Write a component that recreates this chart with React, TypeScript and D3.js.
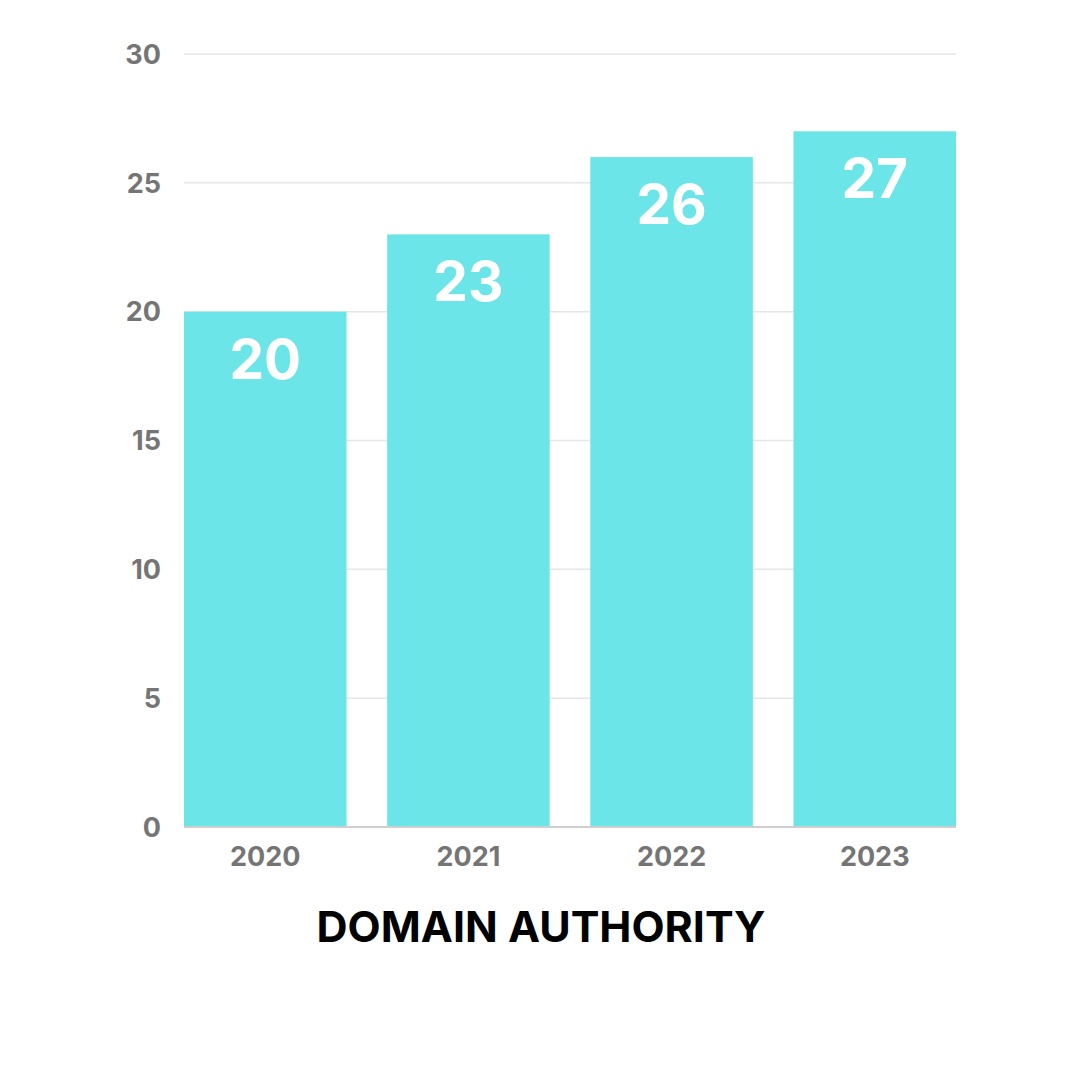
import React from "react";
import * as d3 from "d3";

const categories = ["2020", "2021", "2022", "2023"];
const values = [20, 23, 26, 27];
const yTicks = [0, 5, 10, 15, 20, 25, 30];
const title = "DOMAIN AUTHORITY";

export default function App() {
  const W = 1080, H = 1080;
  const left = 184, right = 956, top = 54, bottom = 827;
  const x = d3.scaleBand<string>().domain(categories).range([left, right]).paddingInner(0.2).paddingOuter(0);
  const y = d3.scaleLinear().domain([0, 30]).range([bottom, top]);
  const font = "Inter, 'Open Sans', sans-serif";
  return (
    <svg width={W} height={H} style={{ position: "absolute", left: 0, top: 0, background: "#fff" }} fontFamily={font}>
      <rect width={W} height={H} fill="#fff" />
      {yTicks.map((t) => (
        <g key={t}>
          {t !== 0 && <line x1={left} x2={right} y1={y(t)} y2={y(t)} stroke="#e6e6e6" strokeWidth={1.5} />}
          <text x={161} y={y(t)} dy="0.36em" textAnchor="end" fontSize={27} fontWeight={700} fill="#757575">{t}</text>
        </g>
      ))}
      {categories.map((c, i) => (
        <g key={c}>
          <rect x={x(c)} y={y(values[i])} width={x.bandwidth()} height={bottom - y(values[i])} fill="#6ce5e8" />
          <text x={x(c)! + x.bandwidth() / 2} y={y(values[i]) + 67} textAnchor="middle" fontSize={55} fontWeight={700} fill="#fff">{values[i]}</text>
          <text x={x(c)! + x.bandwidth() / 2} y={866} textAnchor="middle" fontSize={27} fontWeight={700} fill="#757575">{c}</text>
        </g>
      ))}
      <line x1={left} x2={right} y1={bottom} y2={bottom} stroke="#cfcfcf" strokeWidth={2} />
      <text x={541} y={942} textAnchor="middle" fontSize={43} fontWeight={700} fill="#000">{title}</text>
    </svg>
  );
}
